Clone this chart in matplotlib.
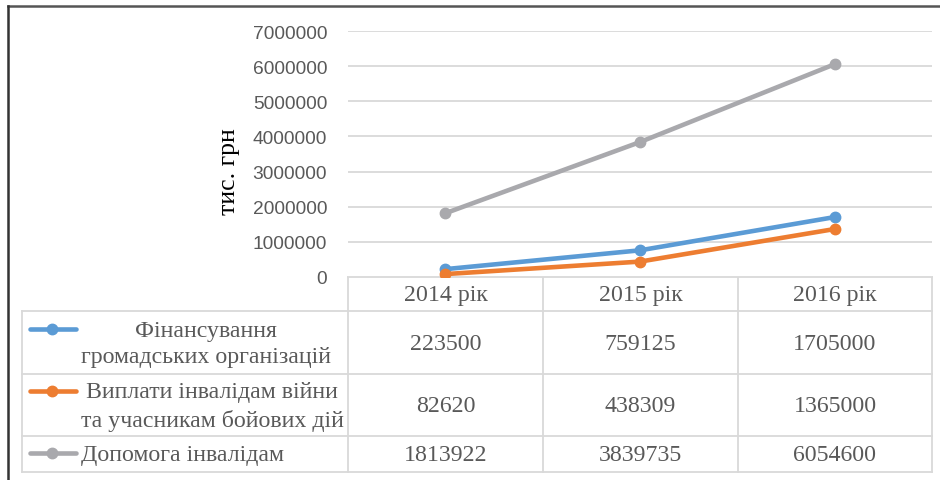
import matplotlib.pyplot as plt
import numpy as np

years = ['2014 рік', '2015 рік', '2016 рік']
series_names = ['Фінансування\nгромадських організацій',
                'Виплати інвалідам війни\nта учасникам бойових дій',
                'Допомога інвалідам']
funding = [223500, 759125, 1705000]
war_payments = [82620, 438309, 1365000]
disability_aid = [1813922, 3839735, 6054600]
yticks = [0, 1000000, 2000000, 3000000, 4000000, 5000000, 6000000, 7000000]

colors = ['#5b9bd5', '#ed7d31', '#a9a9ad']
text_gray = '#595959'
grid_gray = '#d9d9d9'
serif = 'Liberation Serif'
sans = 'Liberation Sans'

W, H = 940, 481
fig = plt.figure(figsize=(W / 100, H / 100), dpi=100)

# chart area in pixel coordinates
px_left, px_right, px_top, px_bottom = 348, 932, 32, 278
ax = fig.add_axes([px_left / W, 1 - px_bottom / H,
                   (px_right - px_left) / W, (px_bottom - px_top) / H])

values = [funding, war_payments, disability_aid]
x = np.arange(len(years))
for vals, c in zip(values, colors):
    ax.plot(x, vals, '-o', color=c, linewidth=3.3, markersize=7.5,
            solid_capstyle='round', zorder=3)

ax.set_xlim(-0.5, len(years) - 0.5)
ax.set_ylim(0, 7000000)
ax.set_yticks(yticks)
ax.set_yticklabels([str(v) for v in yticks], fontfamily=sans,
                   fontsize=13.8, color=text_gray)
ax.tick_params(axis='y', length=0, pad=15)
ax.set_xticks([])
ax.grid(axis='y', color=grid_gray, linewidth=1.3)
ax.set_axisbelow(True)
for s in ax.spines.values():
    s.set_visible(False)

# overlay in pixel coordinates for frame, label and data table
ov = fig.add_axes([0, 0, 1, 1], zorder=-1)
ov.set_xlim(0, W)
ov.set_ylim(H, 0)
ov.axis('off')

# screenshot frame
ov.plot([8, W], [7, 7], color='#555555', linewidth=1.8)
ov.plot([8, 8], [7, H], color='#333333', linewidth=1.8)

ov.text(229, 172, 'тис. грн', rotation=90, ha='center', va='center',
        fontfamily=serif, fontsize=18.5, color='black')

# data table
col_x = [348, 543, 738, 932]
row_y = [278, 312, 375, 437, 473]
tbl_left = 22
lw = 1.3
ov.plot([col_x[0], col_x[-1]], [row_y[0], row_y[0]], color=grid_gray, lw=lw)
for yy in row_y[1:]:
    ov.plot([tbl_left, col_x[-1]], [yy, yy], color=grid_gray, lw=lw)
for cx in col_x:
    ov.plot([cx, cx], [row_y[0], row_y[-1]], color=grid_gray, lw=lw)
ov.plot([tbl_left, tbl_left], [row_y[1], row_y[-1]], color=grid_gray, lw=lw)

fs = 17.2
for j, yr in enumerate(years):
    cx = (col_x[j] + col_x[j + 1]) / 2
    ov.text(cx, (row_y[0] + row_y[1]) / 2 + 1, yr, ha='center', va='center',
            fontfamily=serif, fontsize=fs, color=text_gray)

line_h = 26
for i, (name, vals, c) in enumerate(zip(series_names, values, colors)):
    cy = (row_y[i + 1] + row_y[i + 2]) / 2 + 1
    n_lines = name.count('\n') + 1
    first_y = cy - (n_lines - 1) * line_h / 2
    ov.plot([30, 76], [first_y - 2, first_y - 2], color=c, linewidth=3.3,
            solid_capstyle='round')
    ov.plot([52], [first_y - 2], 'o', color=c, markersize=7.5)
    ov.text(81, cy, name, ha='left', va='center', multialignment='center',
            fontfamily=serif, fontsize=fs, color=text_gray, linespacing=1.36)
    for j, v in enumerate(vals):
        cx = (col_x[j] + col_x[j + 1]) / 2
        ov.text(cx, cy, str(v), ha='center', va='center',
                fontfamily=serif, fontsize=fs, color=text_gray)

fig.savefig('out.png', dpi=100)
